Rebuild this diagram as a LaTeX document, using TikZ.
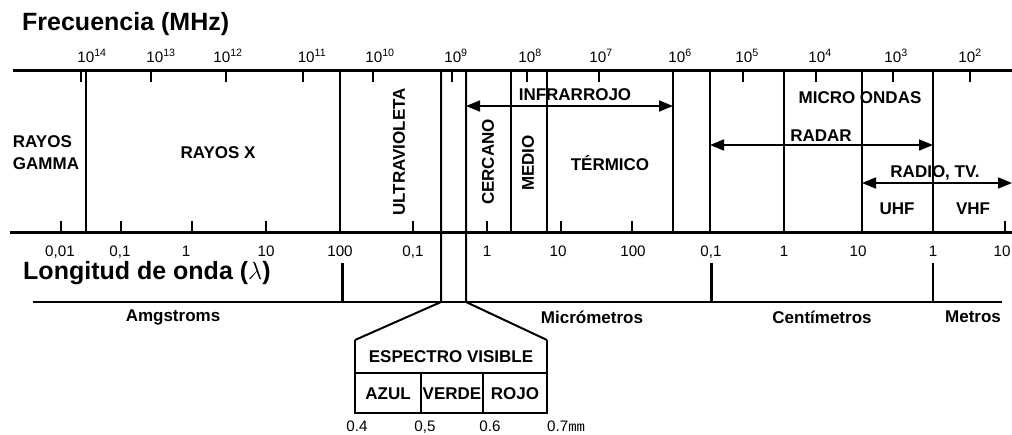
\documentclass[tikz,border=0pt]{standalone}
\usepackage{fontspec}
\setmainfont{Liberation Sans}
\setmonofont{Liberation Mono}
\usetikzlibrary{arrows.meta}
\tikzset{
  lbl/.style={font=\bfseries\fontsize{17}{22}\selectfont, inner sep=0pt},
  num/.style={font=\fontsize{15.2}{17}\selectfont, inner sep=0pt},
  bigtitle/.style={font=\bfseries\fontsize{25}{28}\selectfont, inner sep=0pt},
  axisline/.style={line width=2.6pt},
  border/.style={line width=2pt},
  thinline/.style={line width=1.2pt},
  tickline/.style={line width=1.8pt},
  dimarrow/.style={line width=1.6pt,
    {Triangle[length=14pt,width=11pt]}-{Triangle[length=14pt,width=11pt]}},
}
\begin{document}
\begin{tikzpicture}[x=1pt, y=-1pt]
  \useasboundingbox (0,0) rectangle (1012,434);

  % --- Titles ---
  \node[bigtitle, anchor=base west] (freq) at (22,30) {Frecuencia (MHz)};
  \node[bigtitle, anchor=base west] (wave) at (23,279) {Longitud de onda ($\lambda$)};

  % --- Axes ---
  \draw[axisline] (13,70.5) -- (1012,70.5);
  \draw[axisline] (10,232.5) -- (1012,232.5);

  % --- Frequency ticks ---
  \foreach \x/\c/\e [count=\i] in {81/92/14, 151/161/13, 226/228/12, 303/312/11,
      373/380/10, 452/456/9, 527/530/8, 599/601/7, 743/747/5, 816/820/4,
      893/896/3, 970/970/2} {
    \draw[tickline] (\x,70) -- (\x,82);
    \node[num, anchor=base] (f\i) at (\c,62) {10\textsuperscript{\e}};
  }
  \node[num, anchor=base] (f6) at (680,62) {10\textsuperscript{6}};

  % --- Wavelength ticks ---
  \foreach \x in {61,121,192,266,413,487,561,632,1005}
    \draw[tickline] (\x,233) -- (\x,221);
  \foreach \c/\t [count=\i] in {60/{0,01}, 120/{0,1}, 186/1, 266/10, 340/100,
      413/{0,1}, 487/1, 558/10, 633/100, 711/{0,1}, 784/1, 858/10, 933/1, 1002/10}
    \node[num, anchor=base] (w\i) at (\c,256) {\t};

  % --- Band borders ---
  \foreach \x in {86,340,673,710}
    \draw[border] (\x,70) -- (\x,232);
  \foreach \x in {511,547,784,862,933}
    \draw[thinline] (\x,70) -- (\x,232);

  % --- Visible spectrum ---
  \draw[border] (441,70) -- (441,302) -- (355,340);
  \draw[border] (466,70) -- (466,302) -- (547,340);
  \draw[thinline] (355,340) -- (355,413) -- (547,413) -- (547,340);
  \draw[thinline] (355,373) -- (547,373);
  \draw[thinline] (421,373) -- (421,413);
  \draw[thinline] (483,373) -- (483,413);
  \node[lbl] (vis) at (451,357) {ESPECTRO VISIBLE};
  \node[lbl] (azul) at (388,394) {AZUL};
  \node[lbl] (verde) at (452,394) {VERDE};
  \node[lbl] (rojo) at (515,394) {ROJO};
  \node[num, anchor=base] (v4) at (357,431.5) {0.4};
  \node[num, anchor=base] (v5) at (425,431.5) {0,5};
  \node[num, anchor=base] (v6) at (490,431.5) {0.6};
  \node[num, anchor=base west] (v7) at (547,431.5) {0.7{\ttfamily\fontsize{14}{15}\selectfont mm}};

  % --- Units ---
  \draw[thinline] (33,302) -- (1002,302);
  \draw[line width=3pt] (342,263) -- (342,302);
  \draw[line width=3pt] (711,263) -- (711,302);
  \draw[thinline] (933,263) -- (933,302);
  \node[lbl] (ang) at (173,317) {Amgstroms};
  \node[lbl] (micro) at (592,317) {Micrómetros};
  \node[lbl] (centi) at (822,317) {Centímetros};
  \node[lbl] (metro) at (973,317) {Metros};

  % --- Bands ---
  \node[lbl, align=left] (gamma) at (46,153) {RAYOS\\GAMMA};
  \node[lbl] (xray) at (218,153) {RAYOS X};
  \node[lbl, rotate=90] (uv) at (399,152) {ULTRAVIOLETA};
  \node[lbl, rotate=90] (cerca) at (488,162) {CERCANO};
  \node[lbl, rotate=90] (medio) at (528,163) {MEDIO};
  \node[lbl] (termico) at (610,163) {TÉRMICO};
  \node[lbl] (ondas) at (860,98) {MICRO ONDAS};
  \node[lbl] (uhf) at (897,209) {UHF};
  \node[lbl] (vhf) at (973,209) {VHF};

  % --- Ranges ---
  \coordinate (ir-l) at (466,106);
  \coordinate (ir-r) at (673,106);
  \coordinate (radar-l) at (710,145);
  \coordinate (radar-r) at (933,145);
  \coordinate (radio-l) at (862,183);
  \coordinate (radio-r) at (1012,183);
  \draw[dimarrow] (ir-l) -- (ir-r);
  \draw[dimarrow] (radar-l) -- (radar-r);
  \draw[dimarrow] (radio-l) -- (radio-r);
  \node[lbl] (ir) at (575,95) {INFRARROJO};
  \node[lbl] (radar) at (821,136) {RADAR};
  \node[lbl] (radio) at (935,173) {RADIO, TV.};
\end{tikzpicture}
\end{document}
